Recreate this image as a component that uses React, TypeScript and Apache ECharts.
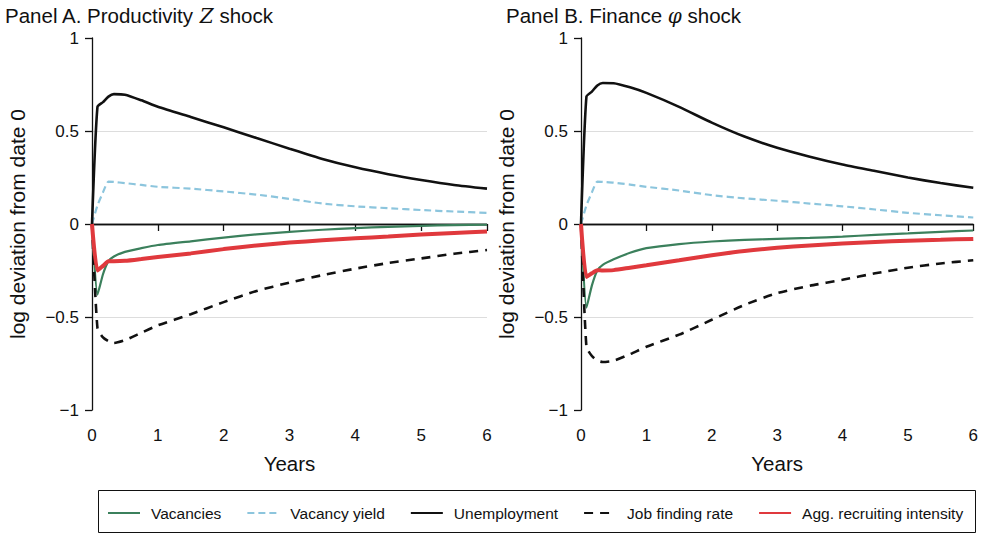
import React, { useEffect, useRef } from "react";
import * as echarts from "echarts";

const years = [0, 0.083, 0.167, 0.25, 0.333, 0.5, 0.75, 1, 1.5, 2, 2.5, 3, 3.5, 4, 4.5, 5, 5.5, 6];

const seriesNames = ["Vacancies", "Vacancy yield", "Unemployment", "Job finding rate", "Agg. recruiting intensity"];

// Panel A: Productivity Z shock
const aVacancies = [0, -0.38, -0.27, -0.2, -0.175, -0.15, -0.13, -0.113, -0.093, -0.073, -0.056, -0.042, -0.031, -0.022, -0.015, -0.01, -0.006, -0.004];
const aVacancyYield = [0, 0.1, 0.17, 0.228, 0.226, 0.22, 0.21, 0.2, 0.19, 0.175, 0.158, 0.135, 0.11, 0.095, 0.085, 0.075, 0.067, 0.06];
const aUnemployment = [0, 0.63, 0.655, 0.685, 0.698, 0.695, 0.665, 0.63, 0.575, 0.52, 0.462, 0.405, 0.35, 0.305, 0.268, 0.237, 0.21, 0.19];
const aJobFinding = [0, -0.56, -0.61, -0.63, -0.64, -0.625, -0.585, -0.545, -0.485, -0.42, -0.36, -0.315, -0.275, -0.24, -0.21, -0.185, -0.16, -0.14];
const aRecruiting = [0, -0.25, -0.225, -0.2, -0.2, -0.198, -0.188, -0.177, -0.158, -0.135, -0.115, -0.1, -0.088, -0.077, -0.067, -0.057, -0.048, -0.04];

// Panel B: Finance phi shock
const bVacancies = [0, -0.45, -0.33, -0.25, -0.22, -0.19, -0.155, -0.13, -0.108, -0.094, -0.085, -0.08, -0.075, -0.068, -0.058, -0.05, -0.042, -0.035];
const bVacancyYield = [0, 0.1, 0.17, 0.228, 0.226, 0.222, 0.212, 0.2, 0.18, 0.155, 0.138, 0.125, 0.11, 0.095, 0.078, 0.06, 0.047, 0.035];
const bUnemployment = [0, 0.685, 0.712, 0.745, 0.758, 0.757, 0.735, 0.705, 0.63, 0.545, 0.47, 0.41, 0.362, 0.32, 0.285, 0.25, 0.22, 0.195];
const bJobFinding = [0, -0.66, -0.71, -0.735, -0.742, -0.735, -0.7, -0.66, -0.595, -0.515, -0.435, -0.372, -0.332, -0.3, -0.265, -0.235, -0.212, -0.195];
const bRecruiting = [0, -0.285, -0.265, -0.248, -0.25, -0.248, -0.235, -0.222, -0.195, -0.168, -0.145, -0.128, -0.115, -0.105, -0.097, -0.09, -0.085, -0.08];

const xTicks = [0, 1, 2, 3, 4, 5, 6];
const yTicks = [-1, -0.5, 0, 0.5, 1];

const FONT = "Liberation Sans";
const colors = ["#3b805c", "#8cc5dd", "#111111", "#111111", "#e0393d"];
const lineStyles: any[] = [
  { width: 2.2, type: "solid" },
  { width: 2.2, type: [7, 4] },
  { width: 2.6, type: "solid" },
  { width: 2.6, type: [9, 7] },
  { width: 4, type: "solid" },
];

function pairs(vals: number[]) {
  return years.map((x, i) => [x, vals[i]]);
}

export default function App() {
  const ref = useRef<HTMLDivElement>(null);
  useEffect(() => {
    if (!ref.current) return;
    const chart = echarts.init(ref.current, null, { renderer: "svg" });
    const panels = [
      [aVacancies, aVacancyYield, aUnemployment, aJobFinding, aRecruiting],
      [bVacancies, bVacancyYield, bUnemployment, bJobFinding, bRecruiting],
    ];
    const fmtY = (v: number) => String(v).replace("-", "\u2212");
    const xAxes = [0, 1].map((g) => ({
      type: "value",
      gridIndex: g,
      min: xTicks[0],
      max: xTicks[xTicks.length - 1],
      interval: 1,
      name: "Years",
      nameLocation: "middle",
      nameGap: 43,
      nameTextStyle: { fontFamily: FONT, fontSize: 20.5, color: "#111" },
      axisLine: { show: true, lineStyle: { color: "#111", width: 1.3 } },
      axisTick: { show: true, length: 7, lineStyle: { color: "#111", width: 1.3 } },
      axisLabel: { fontFamily: FONT, fontSize: 17, color: "#111", margin: 17 },
      splitLine: { show: false },
    }));
    const yAxes = [0, 1].map((g) => ({
      type: "value",
      gridIndex: g,
      min: yTicks[0],
      max: yTicks[yTicks.length - 1],
      interval: 0.5,
      name: "log deviation from date 0",
      nameLocation: "middle",
      nameGap: 64,
      nameTextStyle: { fontFamily: FONT, fontSize: 21, color: "#111" },
      axisLine: { show: true, lineStyle: { color: "#111", width: 1.3 } },
      axisTick: { show: true, length: 7, lineStyle: { color: "#111", width: 1.3 } },
      axisLabel: { fontFamily: FONT, fontSize: 17, color: "#111", margin: 13, formatter: fmtY },
      splitLine: {
        show: true,
        lineStyle: { color: ["transparent", "#dddddd", "transparent", "#dddddd", "transparent"], width: 1.2 },
      },
    }));
    const series: any[] = [];
    panels.forEach((p, g) => {
      p.forEach((vals, i) => {
        series.push({
          type: "line",
          name: seriesNames[i],
          xAxisIndex: g,
          yAxisIndex: g,
          data: pairs(vals),
          symbol: "none",
          showSymbol: false,
          smooth: 0.2,
          color: colors[i],
          lineStyle: { color: colors[i], ...lineStyles[i] },
          z: 3 + i,
          markLine:
            i === 0
              ? {
                  silent: true,
                  symbol: "none",
                  label: { show: false },
                  lineStyle: { color: "#111", width: 1.3, type: "solid" },
                  data: [{ yAxis: 0 }],
                  z: 1,
                }
              : undefined,
        });
      });
    });
    chart.setOption({
      animation: false,
      grid: [
        { left: 92, right: 494, top: 38, bottom: 125 },
        { left: 581, right: 6, top: 38, bottom: 125 },
      ],
      xAxis: xAxes,
      yAxis: yAxes,
      legend: {
        data: seriesNames,
        left: 102,
        top: 500,
        itemWidth: 32,
        itemHeight: 14,
        itemGap: 25,
        itemStyle: { opacity: 0, borderWidth: 0 },
        textStyle: { fontFamily: FONT, fontSize: 15.5, color: "#111", padding: [0, 0, 0, 6] },
      },
      graphic: [
        {
          type: "rect",
          shape: { x: 98.5, y: 490.5, width: 877, height: 42 },
          style: { fill: "none", stroke: "#111", lineWidth: 1 },
        },
        {
          type: "text",
          left: 5,
          top: 5,
          style: {
            text: "{a|Panel A. Productivity }{z|Z}{a| shock}",
            rich: {
              a: { fontFamily: FONT, fontSize: 20.5, fill: "#111" },
              z: { fontFamily: "DejaVu Serif", fontStyle: "italic", fontSize: 20, fill: "#111" },
            },
          },
        },
        {
          type: "text",
          left: 506,
          top: 5,
          style: {
            text: "{a|Panel B. Finance }{z|\u03c6}{a| shock}",
            rich: {
              a: { fontFamily: FONT, fontSize: 20.5, fill: "#111" },
              z: { fontFamily: "DejaVu Serif", fontStyle: "italic", fontSize: 20, fill: "#111" },
            },
          },
        },
      ],
      series,
    });
    return () => chart.dispose();
  }, []);
  return (
    <div
      ref={ref}
      style={{ position: "fixed", left: 0, top: 0, width: 981, height: 535, background: "#fff" }}
    />
  );
}
